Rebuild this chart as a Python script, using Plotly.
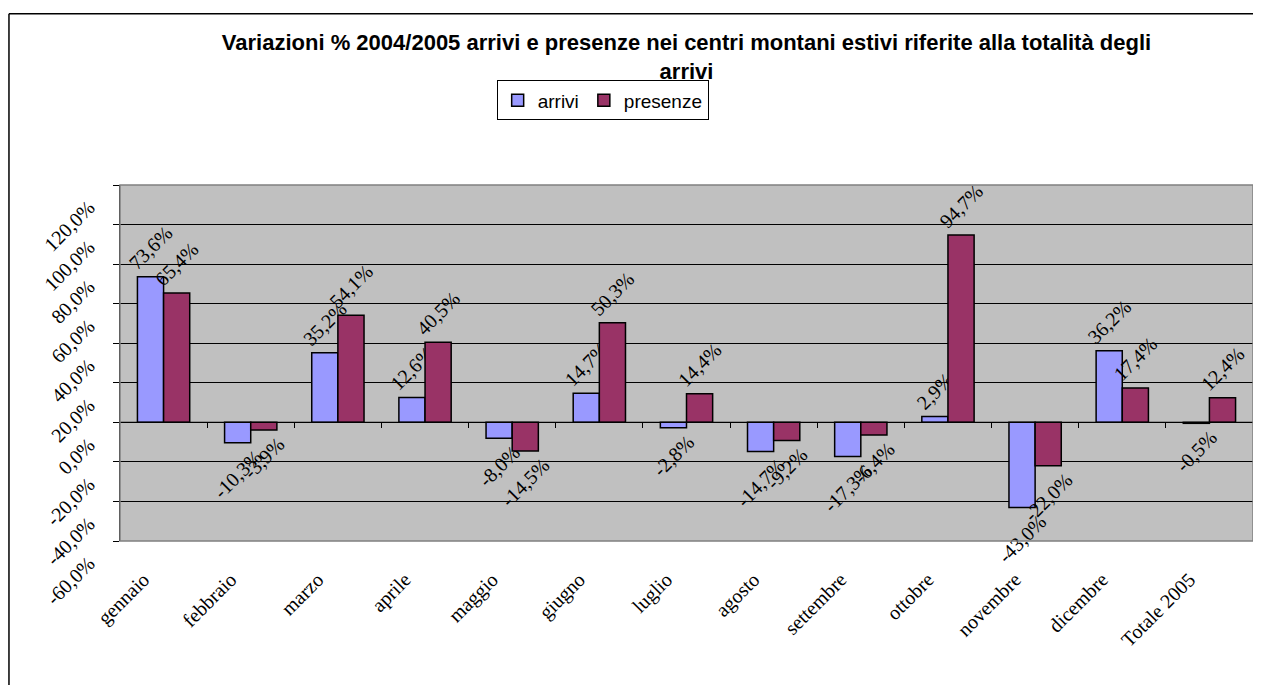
import plotly.graph_objects as go

categories = ["gennaio", "febbraio", "marzo", "aprile", "maggio", "giugno", "luglio",
              "agosto", "settembre", "ottobre", "novembre", "dicembre", "Totale 2005"]
arrivi = [73.6, -10.3, 35.2, 12.6, -8.0, 14.7, -2.8, -14.7, -17.3, 2.9, -43.0, 36.2, -0.5]
presenze = [65.4, -3.9, 54.1, 40.5, -14.5, 50.3, 14.4, -9.2, -6.4, 94.7, -22.0, 17.4, 12.4]
y_ticks = [-60, -40, -20, 0, 20, 40, 60, 80, 100, 120]
y_tick_text = [f"{v:.1f}%".replace(".", ",") for v in y_ticks]

title_text = ("Variazioni % 2004/2005 arrivi e presenze nei centri montani estivi riferite alla totalità degli"
              "<br>arrivi")

serif = "Liberation Serif, Times New Roman, serif"
sans = "Liberation Sans, Arial, sans-serif"

fig = go.Figure()
for name, vals, color in [("arrivi", arrivi, "#9999FF"), ("presenze", presenze, "#993366")]:
    fig.add_trace(go.Bar(
        x=categories, y=vals, name=name,
        marker=dict(color=color, line=dict(color="black", width=1.5)),
        texttemplate="%{y:.1f}%", textposition="outside", textangle=-45,
        textfont=dict(family=serif, size=20, color="black"),
        constraintext="none", cliponaxis=False,
    ))

# secondary axis for boundary tick marks along the zero line
n = len(categories)
fig.add_trace(go.Scatter(x=[-0.5, n - 0.5], y=[0, 0], xaxis="x2", mode="lines",
                         line=dict(color="black", width=1.2), showlegend=False, hoverinfo="skip"))

ymin, ymax = y_ticks[0], y_ticks[-1]
zero_pos = (0 - ymin) / (ymax - ymin)

fig.update_layout(
    width=1253, height=677,
    margin=dict(l=112, r=8, t=177, b=144),
    paper_bgcolor="white", plot_bgcolor="#C0C0C0",
    separators=",.",
    barmode="group", bargap=0.4, bargroupgap=0,
    title=dict(text=title_text, x=0.5, xref="paper", xanchor="center", y=0.938, yanchor="top",
               font=dict(family=sans, size=22, color="black", weight="bold")),
    legend=dict(orientation="h", x=0.390, y=0.893, xref="container", yref="container",
                xanchor="left", yanchor="top", bgcolor="white", bordercolor="black", borderwidth=1,
                font=dict(family=sans, size=19, color="black"), traceorder="normal"),
    xaxis=dict(type="category", showgrid=False, showline=False, ticks="",
               tickangle=-45, tickfont=dict(family=serif, size=20, color="black"),
               ticklabelshift=-20, ticklabelstandoff=22, range=[-0.5, n - 0.5]),
    xaxis2=dict(overlaying="x", anchor="free", position=zero_pos, range=[-0.5, n - 0.5],
                tickmode="array", tickvals=[i + 0.5 for i in range(n)],
                ticks="outside", ticklen=5, tickcolor="black", tickwidth=1,
                showticklabels=False, showgrid=False, showline=False, zeroline=False),
    yaxis=dict(range=[ymin, ymax], tickmode="array", tickvals=y_ticks, ticktext=y_tick_text,
               showgrid=True, gridcolor="black", gridwidth=1,
               zeroline=False, showline=True, linecolor="black", linewidth=1,
               ticks="outside", ticklen=6, tickcolor="black",
               tickangle=-45, tickfont=dict(family=serif, size=20, color="black"),
               ticklabelshift=20, ticklabelstandoff=20),
    shapes=[
        dict(type="rect", xref="paper", yref="paper", x0=0, x1=1, y0=0, y1=1,
             line=dict(color="#808080", width=1.5), layer="above"),
        dict(type="line", xref="paper", yref="paper", x0=-0.098, x1=1.01, y0=1.481, y1=1.481,
             line=dict(color="black", width=1.5)),
        dict(type="line", xref="paper", yref="paper", x0=-0.098, x1=-0.098, y0=1.481, y1=-0.42,
             line=dict(color="black", width=1.5)),
    ],
)

fig.write_html("out.html")
